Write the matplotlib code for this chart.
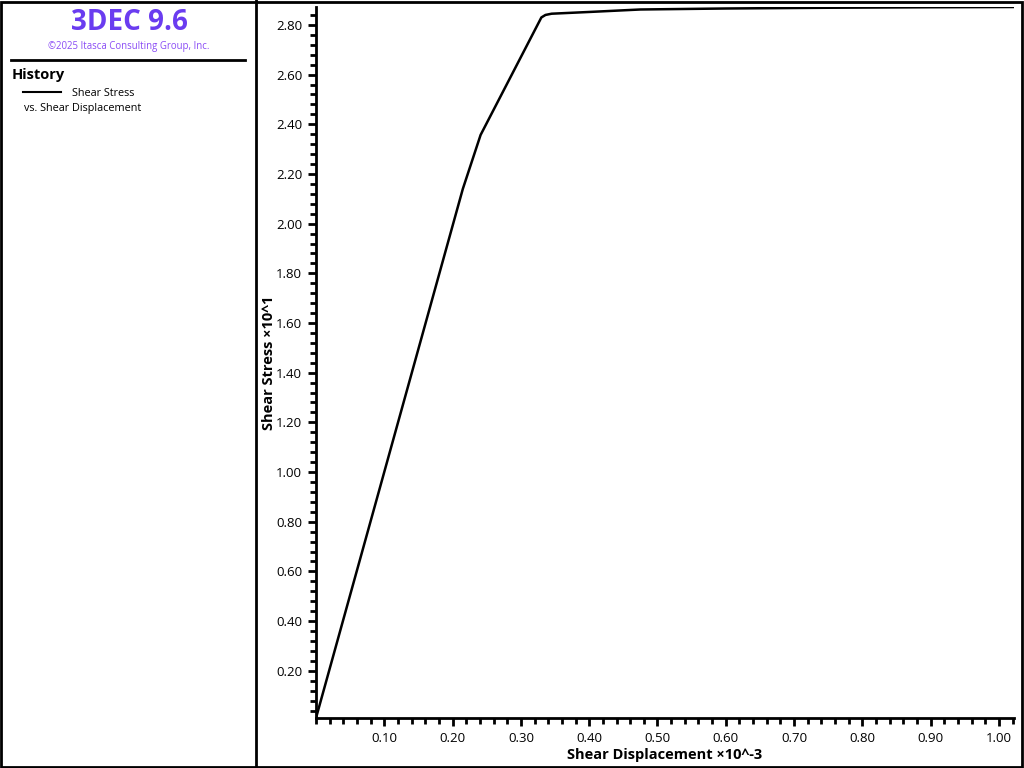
import matplotlib
matplotlib.use("Agg")
import matplotlib.pyplot as plt
from matplotlib.ticker import AutoMinorLocator
from matplotlib.lines import Line2D
from matplotlib.patches import Rectangle

plt.rcParams['font.family'] = ['Open Sans', 'DejaVu Sans']

# shear displacement (x10^-3) and shear stress (x10^1)
disp = [0.0, 0.215, 0.241, 0.330, 0.336, 0.345, 0.40, 0.475, 0.60, 0.75, 0.90, 1.022]
stress = [0.01, 2.14, 2.357, 2.830, 2.840, 2.845, 2.852, 2.862, 2.866, 2.869, 2.871, 2.872]

xticks = [0.10, 0.20, 0.30, 0.40, 0.50, 0.60, 0.70, 0.80, 0.90, 1.00]
yticks = [0.20, 0.40, 0.60, 0.80, 1.00, 1.20, 1.40, 1.60, 1.80, 2.00,
          2.20, 2.40, 2.60, 2.80]

fig = plt.figure(figsize=(10.24, 7.68), dpi=100)
W, H = 1024, 768

# outer frame and panel divider
fig.patches.append(Rectangle((1 / W, 1 / H), 1 - 3 / W, 1 - 3 / H, transform=fig.transFigure,
                             fill=False, lw=2, ec='black'))
fig.lines.append(Line2D([256 / W, 256 / W], [0, 1], transform=fig.transFigure, lw=2, color='black'))

# left info panel
purple = '#6a3cf0'
fig.text(129 / W, 1 - 23 / H, '3DEC 9.6', ha='center', va='center', fontsize=20,
         fontweight='bold', color=purple)
fig.text(129 / W, 1 - 46 / H, '\u00a92025 Itasca Consulting Group, Inc.', ha='center',
         va='center', fontsize=6.9, color='#8a4cf5')
fig.lines.append(Line2D([11 / W, 245 / W], [1 - 60 / H, 1 - 60 / H], transform=fig.transFigure,
                        lw=2, color='black'))
fig.text(12 / W, 1 - 75 / H, 'History', ha='left', va='center', fontsize=10.5, fontweight='bold')
fig.lines.append(Line2D([23 / W, 61 / W], [1 - 92 / H, 1 - 92 / H], transform=fig.transFigure,
                        lw=1.5, color='black'))
fig.text(72 / W, 1 - 93 / H, 'Shear Stress', ha='left', va='center', fontsize=7.8)
fig.text(24 / W, 1 - 109 / H, 'vs. Shear Displacement', ha='left', va='center', fontsize=7.8)

# plot
ax = fig.add_axes([316 / W, 1 - 718 / H, (1014 - 316) / W, (718 - 7) / H])
ax.plot(disp, stress, color='black', lw=1.8)
ax.set_xlim(0, 1.022)
ax.set_ylim(0.01, 2.872)

ax.set_xticks(xticks)
ax.set_xticklabels([f'{v:.2f}' for v in xticks])
ax.set_yticks(yticks)
ax.set_yticklabels([f'{v:.2f}' for v in yticks])
ax.xaxis.set_minor_locator(AutoMinorLocator(5))
ax.yaxis.set_minor_locator(AutoMinorLocator(5))

for s in ['top', 'right']:
    ax.spines[s].set_visible(False)
for s in ['left', 'bottom']:
    ax.spines[s].set_linewidth(2)

ax.tick_params(which='major', length=6, width=2, labelsize=9.5, pad=4)
ax.tick_params(which='minor', length=4, width=2)

ax.set_xlabel('Shear Displacement \u00d710^-3', fontsize=10.5, fontweight='bold', labelpad=2)
ax.set_ylabel('Shear Stress \u00d710^1', fontsize=10.5, fontweight='bold')
ax.yaxis.set_label_coords(-0.058, 0.5)

fig.savefig('out.png', dpi=100)
